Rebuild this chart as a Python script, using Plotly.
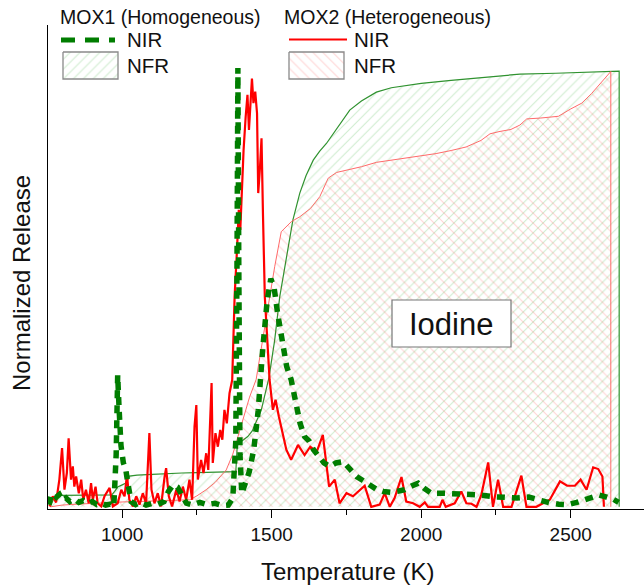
import plotly.graph_objects as go

# ---------------- data ----------------
# MOX1 (Homogeneous) NIR - green dashed
t_mox1_nir = [755, 762, 770, 780, 790, 800, 812, 825, 840, 855, 870, 885, 900, 915, 930, 945, 960, 972,
              980, 985, 990, 996, 1004, 1012, 1020, 1030, 1045, 1060, 1080, 1100, 1120, 1140, 1155, 1170,
              1185, 1200, 1215, 1235, 1260, 1285, 1310, 1335, 1355, 1370, 1380, 1384, 1387, 1390, 1394,
              1400, 1410, 1425, 1440, 1455, 1470, 1485, 1497, 1508, 1520, 1535, 1550, 1565, 1580, 1595,
              1610, 1625, 1640, 1655, 1675, 1694, 1715, 1739, 1760, 1784, 1805, 1828, 1850, 1873, 1900,
              1925, 1945, 1970, 1990, 2010, 2034, 2070, 2110, 2150, 2195, 2241, 2280, 2320, 2360, 2400,
              2430, 2460, 2490, 2520, 2550, 2575, 2595, 2620, 2643, 2660]
v_mox1_nir = [0.005, 0.025, 0.03, 0.022, 0.028, 0.015, 0.02, 0.012, 0.018, 0.01, 0.014, 0.008, 0.012, 0.005,
              0.008, 0.004, 0.006, 0.0, 0.12, 0.30, 0.22, 0.14, 0.10, 0.085, 0.05, 0.012, 0.005, 0.01, 0.004,
              0.008, 0.006, 0.012, 0.035, 0.05, 0.045, 0.025, 0.008, 0.004, 0.01, 0.005, 0.008, 0.003, 0.004,
              0.02, 0.15, 0.55, 1.0, 0.55, 0.12, 0.03, 0.05, 0.08, 0.13, 0.22, 0.36, 0.47, 0.52, 0.5, 0.44,
              0.37, 0.32, 0.29, 0.24, 0.19, 0.16, 0.15, 0.13, 0.115, 0.1, 0.092, 0.1, 0.103, 0.088, 0.069,
              0.06, 0.05, 0.04, 0.035, 0.033, 0.036, 0.039, 0.048, 0.054, 0.042, 0.031, 0.031, 0.03, 0.03,
              0.027, 0.023, 0.02, 0.02, 0.022, 0.013, 0.009, 0.006, 0.005, 0.01, 0.018, 0.024, 0.027, 0.022,
              0.017, 0.01]

# MOX2 (Heterogeneous) NIR - red
t_mox2_nir = [757, 768, 779, 790, 799, 807, 815, 821, 829, 835, 840, 846, 855, 863, 870, 879, 888, 896,
              902, 911, 918, 930, 941, 958, 969, 985, 997, 1008, 1016, 1024, 1036, 1047, 1058, 1069, 1080,
              1091, 1098, 1108, 1119, 1130, 1142, 1147, 1156, 1167, 1181, 1192, 1203, 1214, 1225, 1234,
              1242, 1248, 1253, 1264, 1272, 1281, 1288, 1294, 1299, 1303, 1312, 1320, 1328, 1335, 1342,
              1350, 1359, 1368, 1376, 1384, 1390, 1395, 1399, 1406, 1413, 1419, 1424, 1428, 1434, 1439,
              1445, 1451, 1455, 1461, 1466, 1471, 1477, 1493, 1504, 1513, 1524, 1549, 1565, 1588, 1610,
              1629, 1651, 1671, 1692, 1711, 1727, 1750, 1772, 1811, 1833, 1861, 1878, 1895, 1911, 1934,
              1950, 1973, 1995, 2012, 2023, 2062, 2071, 2082, 2112, 2134, 2151, 2168, 2185, 2201, 2224,
              2240, 2257, 2274, 2302, 2335, 2352, 2385, 2413, 2430, 2464, 2488, 2514, 2533, 2553, 2575,
              2592, 2606, 2611]
v_mox2_nir = [0.001, 0.024, 0.01, 0.062, 0.134, 0.039, 0.077, 0.156, 0.062, 0.092, 0.046, 0.069, 0.031,
              0.062, 0.016, 0.039, 0.008, 0.054, 0.016, 0.046, 0.008, 0.001, 0.024, 0.043, 0.001, 0.008,
              0.039, 0.024, 0.073, 0.016, 0.001, 0.024, 0.005, 0.031, 0.008, 0.168, 0.039, 0.008, 0.031,
              0.001, 0.069, 0.088, 0.024, 0.001, 0.039, 0.012, 0.046, 0.016, 0.062, 0.016, 0.183, 0.232,
              0.062, 0.107, 0.077, 0.122, 0.084, 0.221, 0.282, 0.10, 0.168, 0.137, 0.175, 0.153, 0.221,
              0.19, 0.259, 0.289, 0.479, 0.586, 0.677, 0.631, 0.70, 0.813, 0.889, 0.939, 0.859, 0.912,
              0.976, 0.92, 0.946, 0.897, 0.715, 0.775, 0.84, 0.662, 0.479, 0.289, 0.221, 0.244, 0.206,
              0.13, 0.107, 0.141, 0.118, 0.137, 0.126, 0.164, 0.046, 0.062, 0.008, 0.031, 0.024, 0.048,
              0.0, 0.005, 0.031, 0.0, 0.02, 0.068, 0.012, 0.008, 0.0, 0.01, 0.0, 0.0, 0.016, 0.0, 0.008,
              0.035, 0.008, 0.007, 0.0, 0.027, 0.101, 0.0, 0.062, 0.0, 0.0, 0.071, 0.0, 0.0, 0.01, 0.016,
              0.058, 0.048, 0.048, 0.062, 0.039, 0.09, 0.086, 0.069, 0.0]

# MOX1 NFR (cumulative) - green hatched
t_mox1_nfr = [760, 775, 800, 850, 900, 965, 975, 985, 1000, 1015, 1024, 1050, 1100, 1150, 1200, 1250,
              1300, 1340, 1380, 1385, 1400, 1420, 1435, 1465, 1491, 1510, 1527, 1549, 1571, 1594, 1615,
              1639, 1660, 1683, 1705, 1728, 1761, 1800, 1850, 1900, 1950, 2000, 2100, 2200, 2330, 2450,
              2550, 2662, 2662]
v_mox1_nfr = [0, 0.025, 0.026, 0.026, 0.027, 0.027, 0.035, 0.045, 0.05, 0.055, 0.07, 0.072, 0.074, 0.076,
              0.077, 0.078, 0.079, 0.08, 0.08, 0.142, 0.15, 0.16, 0.173, 0.22, 0.295, 0.38, 0.479, 0.57,
              0.654, 0.715, 0.755, 0.79, 0.81, 0.828, 0.85, 0.874, 0.904, 0.925, 0.945, 0.955, 0.96, 0.965,
              0.972, 0.978, 0.986, 0.988, 0.99, 0.993, 0]

# MOX2 NFR (cumulative) - red hatched
t_mox2_nfr = [760, 800, 850, 900, 950, 1000, 1050, 1100, 1150, 1200, 1226, 1250, 1281, 1310, 1348, 1370,
              1393, 1410, 1426, 1448, 1470, 1493, 1510, 1532, 1550, 1566, 1594, 1630, 1661, 1689, 1717,
              1761, 1800, 1850, 1900, 1950, 2000, 2050, 2100, 2150, 2200, 2230, 2260, 2300, 2330, 2353,
              2400, 2459, 2498, 2537, 2570, 2604, 2634, 2634]
v_mox2_nfr = [0, 0.004, 0.006, 0.008, 0.01, 0.011, 0.012, 0.013, 0.014, 0.015, 0.016, 0.025, 0.039, 0.055,
              0.084, 0.12, 0.175, 0.21, 0.25, 0.29, 0.38, 0.479, 0.547, 0.627, 0.64, 0.65, 0.661, 0.68,
              0.707, 0.749, 0.762, 0.768, 0.775, 0.785, 0.79, 0.795, 0.80, 0.805, 0.812, 0.82, 0.835, 0.85,
              0.855, 0.86, 0.87, 0.884, 0.886, 0.89, 0.906, 0.92, 0.942, 0.969, 0.992, 0]

x_tick_vals = [1000, 1500, 2000, 2500]
x_tick_text = ["1000", "1500", "2000", "2500"]
x_minor_vals = [1250, 1750, 2250]

FONT = "Liberation Sans, Arial, sans-serif"
GREEN_HATCH = "rgba(0,150,0,0.38)"
RED_HATCH = "rgba(255,0,0,0.34)"

# plot area in pixels
L, R, T, B = 48, 644, 25, 509


def xp(px):
    return (px - L) / (R - L)


def yp(py):
    return (B - py) / (B - T)


fig = go.Figure()

fig.add_trace(go.Scatter(
    x=t_mox1_nfr, y=v_mox1_nfr, mode="lines", fill="tozeroy",
    fillcolor="rgba(0,0,0,0)",
    fillpattern=dict(shape="/", fgcolor=GREEN_HATCH, bgcolor="rgba(0,0,0,0)", size=7, solidity=0.15),
    line=dict(color="#2f922f", width=1.2), showlegend=False))

fig.add_trace(go.Scatter(
    x=t_mox2_nfr, y=v_mox2_nfr, mode="lines", fill="tozeroy",
    fillcolor="rgba(0,0,0,0)",
    fillpattern=dict(shape="\\", fgcolor=RED_HATCH, bgcolor="rgba(0,0,0,0)", size=7, solidity=0.15),
    line=dict(color="#ff6a6a", width=1), showlegend=False))

fig.add_trace(go.Scatter(
    x=t_mox2_nir, y=v_mox2_nir, mode="lines",
    line=dict(color="#ff0000", width=2.2), showlegend=False))

fig.add_trace(go.Scatter(
    x=t_mox1_nir, y=v_mox1_nir, mode="lines",
    line=dict(color="#007d00", width=5.5, dash="8px,7px"), showlegend=False))

# legend hatch boxes on an overlay pixel axis
fig.add_trace(go.Scatter(
    x=[63, 118, 118, 63, 63], y=[52, 52, 79, 79, 52], xaxis="x2", yaxis="y2",
    mode="lines", fill="toself", fillcolor="rgba(0,0,0,0)",
    fillpattern=dict(shape="/", fgcolor=GREEN_HATCH, bgcolor="rgba(0,0,0,0)", size=7, solidity=0.15),
    line=dict(color="#8a8a8a", width=1.3), showlegend=False, hoverinfo="skip"))
fig.add_trace(go.Scatter(
    x=[289, 344, 344, 289, 289], y=[52, 52, 79, 79, 52], xaxis="x2", yaxis="y2",
    mode="lines", fill="toself", fillcolor="rgba(0,0,0,0)",
    fillpattern=dict(shape="\\", fgcolor=RED_HATCH, bgcolor="rgba(0,0,0,0)", size=7, solidity=0.15),
    line=dict(color="#8a8a8a", width=1.3), showlegend=False, hoverinfo="skip"))

shapes = [
    dict(type="line", xref="paper", yref="paper", x0=xp(61), x1=xp(115), y0=yp(40), y1=yp(40),
         line=dict(color="#007d00", width=5, dash="14px,10px")),
    dict(type="line", xref="paper", yref="paper", x0=xp(289), x1=xp(347), y0=yp(39.5), y1=yp(39.5),
         line=dict(color="#ff0000", width=2)),
    dict(type="rect", xref="paper", yref="paper", x0=xp(392), x1=xp(511), y0=yp(347), y1=yp(300),
         line=dict(color="#777777", width=1.2), fillcolor="white", layer="above"),
]

annotations = [
    dict(text="MOX1 (Homogeneous)", x=xp(58), y=yp(17), xanchor="left", yanchor="middle", font=dict(size=19.5)),
    dict(text="MOX2 (Heterogeneous)", x=xp(282), y=yp(17), xanchor="left", yanchor="middle", font=dict(size=19.5)),
    dict(text="NIR", x=xp(125), y=yp(39.5), xanchor="left", yanchor="middle", font=dict(size=20.5)),
    dict(text="NFR", x=xp(125), y=yp(65.5), xanchor="left", yanchor="middle", font=dict(size=20.5)),
    dict(text="NIR", x=xp(352), y=yp(39.5), xanchor="left", yanchor="middle", font=dict(size=20.5)),
    dict(text="NFR", x=xp(352), y=yp(65.5), xanchor="left", yanchor="middle", font=dict(size=20.5)),
    dict(text="Iodine", x=xp(451), y=yp(324), xanchor="center", yanchor="middle", font=dict(size=31)),
    dict(text="Temperature (K)", x=xp(347), y=yp(571), xanchor="center", yanchor="middle",
         font=dict(size=24)),
    dict(text="Normalized Release", x=xp(21), y=yp(283), xanchor="center", yanchor="middle",
         textangle=-90, font=dict(size=24)),
]
for a in annotations:
    a.update(xref="paper", yref="paper", showarrow=False)
    f = a.get("font", {})
    f.setdefault("size", 20)
    f.update(family=FONT, color="#111111")
    a["font"] = f

fig.update_layout(
    width=644, height=588,
    margin=dict(l=L, r=644 - R, t=T, b=588 - B, pad=0),
    paper_bgcolor="white", plot_bgcolor="white",
    font=dict(family=FONT, color="#111111"),
    shapes=shapes, annotations=annotations,
    xaxis=dict(range=[752, 2745], showline=True, linecolor="black", linewidth=1.3,
               ticks="outside", ticklen=8, tickwidth=1.3, tickcolor="black",
               tickmode="array", tickvals=x_tick_vals, ticktext=x_tick_text,
               tickfont=dict(size=19, family=FONT, color="#111111"),
               minor=dict(tickmode="array", tickvals=x_minor_vals, ticks="outside", ticklen=5,
                          tickwidth=1.3, tickcolor="black", showgrid=False),
               showgrid=False, zeroline=False, mirror=False),
    yaxis=dict(range=[-0.005, 1.098], showline=True, linecolor="black", linewidth=1.3,
               showticklabels=False, ticks="", showgrid=False, zeroline=False),
    xaxis2=dict(overlaying="x", range=[L, R], visible=False),
    yaxis2=dict(overlaying="y", range=[B, T], visible=False),
)

fig.write_html("out.html")
